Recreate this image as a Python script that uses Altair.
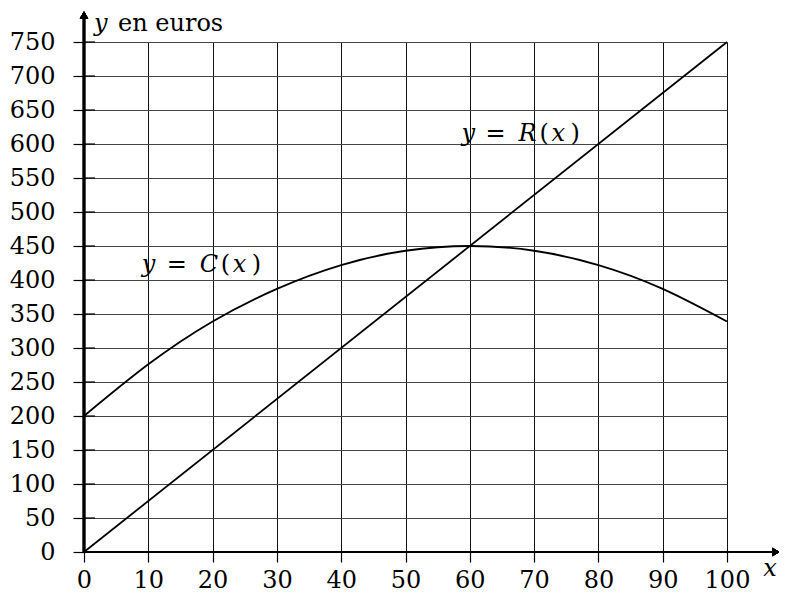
import altair as alt
import pandas as pd

# ---- data ----
x_ticks = [0, 10, 20, 30, 40, 50, 60, 70, 80, 90, 100]
y_ticks = [0, 50, 100, 150, 200, 250, 300, 350, 400, 450, 500, 550, 600, 650, 700, 750]

c_x = [0, 10, 20, 30, 40, 50, 60, 70, 80, 90, 100]
c_y = [200, 276, 339, 387, 422, 443, 450, 443, 422, 387, 339]

r_x = [0, 100]
r_y = [0, 750]

# label pieces: (text, italic?, dx offset)
r_label_pos = (58.7, 604)
r_pieces = [("y", True, 0), ("=", False, 24), ("R", True, 57), ("(", False, 78), ("x", True, 90), (")", False, 109)]
c_label_pos = (9.0, 412)
c_pieces = [("y", True, 0), ("=", False, 25), ("C", True, 58), ("(", False, 79), ("x", True, 91), (")", False, 110)]

FONT = "DejaVu Serif"
FS = 24
W, H = 643, 510

xs = alt.Scale(domain=[0, 100], nice=False)
ys = alt.Scale(domain=[0, 750], nice=False)

x_axis = alt.Axis(values=x_ticks, title=None, grid=True, gridColor="#111", gridWidth=1,
                  tickColor="black", tickSize=10, tickWidth=1.2, labelFont=FONT, labelFontSize=FS,
                  labelColor="black", labelPadding=6, domain=False, labelFlush=False,
                  labelOverlap=False, labelBound=False)
y_axis = alt.Axis(values=y_ticks, title=None, grid=True, gridColor="#444", gridWidth=1,
                  tickColor="black", tickSize=11, tickWidth=1.2, labelFont=FONT, labelFontSize=FS,
                  labelColor="black", labelPadding=18, domain=False, labelFlush=False,
                  labelOverlap=False, labelBound=False)

def X():
    return alt.X("x:Q", scale=xs, axis=x_axis)

def Y():
    return alt.Y("y:Q", scale=ys, axis=y_axis)

curve_df = pd.DataFrame({"x": c_x, "y": c_y})
line_df = pd.DataFrame({"x": r_x, "y": r_y})

curve = alt.Chart(curve_df).mark_line(color="black", strokeWidth=1.8, interpolate="natural").encode(x=X(), y=Y())
rline = alt.Chart(line_df).mark_line(color="black", strokeWidth=1.8).encode(x=X(), y=Y())

# inner part of y ticks (they cross the axis)
ytick_df = pd.DataFrame({"y": y_ticks})
ytick_inner = alt.Chart(ytick_df).mark_rule(color="black", strokeWidth=1.2).encode(
    y=Y(), x=alt.value(0), x2=alt.value(11))

# axes with arrows
x_axis_line = alt.Chart(curve_df).mark_rule(color="black", strokeWidth=2.2).encode(
    x=alt.value(0), x2=alt.value(W + 48), y=alt.value(H))
y_axis_line = alt.Chart(curve_df).mark_rule(color="black", strokeWidth=2.2).encode(
    x=alt.value(0), y=alt.value(H), y2=alt.value(-26))
x_arrow = alt.Chart(curve_df).mark_point(shape="triangle-right", filled=True, color="black", size=70, opacity=1).encode(
    x=alt.value(W + 49), y=alt.value(H))
y_arrow = alt.Chart(curve_df).mark_point(shape="triangle-up", filled=True, color="black", size=70, opacity=1).encode(
    x=alt.value(0), y=alt.value(-27))

def piece_layers(pos, pieces):
    out = []
    for txt, ital, dx in pieces:
        d = pd.DataFrame({"x": [pos[0]], "y": [pos[1]], "t": [txt]})
        out.append(alt.Chart(d).mark_text(font=FONT, fontSize=FS, fontStyle="italic" if ital else "normal",
                                          align="left", baseline="alphabetic", dx=dx, color="black").encode(
            x=X(), y=Y(), text="t:N"))
    return out

title_df = pd.DataFrame({"t": ["y"], "u": ["en euros"]})
ytitle1 = alt.Chart(title_df).mark_text(font=FONT, fontSize=FS, fontStyle="italic", align="left",
                                        baseline="alphabetic", color="black").encode(
    x=alt.value(10), y=alt.value(-11), text="t:N")
ytitle2 = alt.Chart(title_df).mark_text(font=FONT, fontSize=FS, align="left",
                                        baseline="alphabetic", color="black").encode(
    x=alt.value(34), y=alt.value(-11), text="u:N")
xtitle = alt.Chart(pd.DataFrame({"t": ["x"]})).mark_text(font=FONT, fontSize=FS, fontStyle="italic", align="center",
                                                         baseline="alphabetic", color="black").encode(
    x=alt.value(W + 43), y=alt.value(H + 24), text="t:N")

chart = alt.layer(
    curve, rline, ytick_inner, x_axis_line, y_axis_line, x_arrow, y_arrow,
    *piece_layers(r_label_pos, r_pieces), *piece_layers(c_label_pos, c_pieces),
    ytitle1, ytitle2, xtitle
).properties(
    width=W, height=H,
    autosize=alt.AutoSizeParams(type="none"),
    padding={"left": 76, "top": 34, "right": 52, "bottom": 42},
    background="white",
).configure_view(stroke=None).configure_axis(labelOverlap=False, labelBound=False, labelFlush=False)

chart.save("out.html", embed_options={"renderer": "svg", "actions": False})
